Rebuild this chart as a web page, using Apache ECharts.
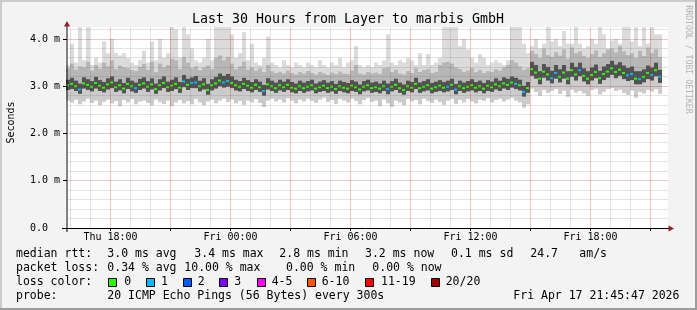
<!DOCTYPE html>
<html><head><meta charset="utf-8">
<script src="https://cdn.jsdelivr.net/npm/echarts@6/dist/echarts.min.js"></script>
<style>html,body{margin:0;padding:0;background:#f3f3f3}#c{width:697px;height:310px}</style>
</head><body><div id="c"></div>
<script>
// time axis in hours since Thu 00:00; one step = 12 minutes
const START_HOUR = 15 + 45/60 + 47/3600;   // Thu 15:45:47
const STEP_HOURS = 0.2;

// median rtt (ms)
const med = [
3.02,3.05,3.00,2.93,3.06,3.03,2.99,3.07,3.01,2.97,
3.04,3.08,2.98,3.02,2.95,3.05,3.00,2.96,3.03,3.06,
2.99,3.04,2.94,3.02,3.07,2.98,3.01,3.05,2.97,3.10,
3.03,3.07,3.08,3.00,3.04,2.92,3.02,3.06,3.12,3.08,
3.11,3.07,3.02,2.99,3.05,3.01,2.97,3.03,2.98,2.90,
3.04,3.00,2.96,3.02,2.98,3.03,2.97,2.95,3.00,2.96,
2.99,3.02,2.95,2.98,3.01,2.96,2.99,2.94,3.00,2.97,
2.95,3.01,2.98,2.93,2.99,3.02,2.96,2.98,2.95,3.00,
2.94,2.99,3.03,2.96,2.92,3.00,2.97,3.05,2.96,2.99,
3.02,2.95,2.98,3.01,2.97,2.99,3.03,2.93,3.00,2.96,
2.99,3.02,2.97,3.00,2.95,3.01,2.98,3.04,3.00,3.06,
3.03,3.08,3.05,3.02,2.88,2.96,3.36,3.29,3.16,3.31,
3.25,3.17,3.28,3.20,3.29,3.16,3.34,3.25,3.34,3.22,
3.16,3.24,3.30,3.17,3.26,3.31,3.38,3.30,3.35,3.28,
3.23,3.26,3.16,3.15,3.20,3.28,3.24,3.34,3.20];
// smoke: lowest ping (ms)
const lo = [
2.70,2.66,2.72,2.62,2.68,2.74,2.65,2.70,2.60,2.67,
2.72,2.64,2.69,2.58,2.71,2.66,2.73,2.62,2.68,2.70,
2.65,2.60,2.72,2.67,2.63,2.70,2.58,2.66,2.71,2.64,
2.69,2.62,2.73,2.66,2.60,2.68,2.72,2.64,2.70,2.74,
2.67,2.72,2.64,2.69,2.61,2.70,2.66,2.73,2.65,2.56,
2.70,2.74,2.68,2.72,2.66,2.75,2.70,2.64,2.72,2.68,
2.74,2.69,2.65,2.72,2.76,2.67,2.71,2.63,2.73,2.70,
2.66,2.74,2.69,2.62,2.71,2.75,2.67,2.70,2.58,2.72,
2.64,2.57,2.70,2.66,2.60,2.73,2.68,2.71,2.62,2.74,
2.69,2.65,2.72,2.67,2.61,2.70,2.74,2.63,2.71,2.66,
2.73,2.68,2.64,2.72,2.69,2.75,2.66,2.71,2.74,2.68,
2.72,2.76,2.70,2.66,2.55,2.62,2.95,2.88,2.80,2.92,
2.86,2.90,2.94,2.84,2.91,2.78,2.93,2.87,2.90,2.85,
2.80,2.92,2.95,2.83,2.89,2.94,2.96,2.90,2.93,2.86,
2.82,2.91,2.76,2.88,2.85,2.92,2.89,2.94,2.84];
// smoke: lower edge of dense core (ms)
const q1 = [
2.92,2.94,2.90,2.84,2.95,2.92,2.89,2.95,2.90,2.87,
2.93,2.96,2.88,2.91,2.85,2.94,2.89,2.86,2.92,2.95,
2.88,2.93,2.84,2.91,2.96,2.88,2.90,2.94,2.86,2.98,
2.92,2.96,2.96,2.89,2.93,2.82,2.91,2.95,3.00,2.97,
2.99,2.96,2.91,2.89,2.94,2.90,2.87,2.92,2.88,2.80,
2.93,2.90,2.86,2.91,2.88,2.92,2.87,2.85,2.90,2.86,
2.89,2.91,2.85,2.88,2.90,2.86,2.89,2.84,2.90,2.87,
2.85,2.90,2.88,2.83,2.89,2.91,2.86,2.88,2.85,2.90,
2.83,2.89,2.92,2.86,2.82,2.90,2.87,2.94,2.86,2.89,
2.91,2.85,2.88,2.90,2.87,2.89,2.92,2.83,2.90,2.86,
2.89,2.91,2.87,2.90,2.85,2.90,2.88,2.93,2.90,2.95,
2.92,2.97,2.94,2.91,2.78,2.86,3.22,3.16,3.04,3.18,
3.12,3.06,3.16,3.08,3.16,3.04,3.20,3.12,3.21,3.10,
3.04,3.12,3.17,3.05,3.13,3.18,3.24,3.17,3.22,3.15,
3.11,3.13,3.04,3.04,3.08,3.15,3.12,3.21,3.07];
// smoke: upper edge of dense core (ms)
const q3 = [
3.14,3.18,3.12,3.06,3.19,3.15,3.11,3.20,3.13,3.09,
3.17,3.21,3.10,3.15,3.07,3.18,3.12,3.08,3.16,3.19,
3.11,3.17,3.06,3.15,3.21,3.10,3.14,3.19,3.09,3.24,
3.16,3.19,3.22,3.12,3.17,3.05,3.15,3.20,3.27,3.22,
3.26,3.21,3.14,3.11,3.18,3.13,3.09,3.15,3.10,3.03,
3.17,3.12,3.08,3.14,3.10,3.15,3.09,3.06,3.12,3.08,
3.11,3.14,3.06,3.10,3.13,3.08,3.11,3.05,3.12,3.09,
3.07,3.13,3.10,3.04,3.11,3.14,3.08,3.10,3.06,3.12,
3.06,3.11,3.16,3.08,3.04,3.12,3.09,3.18,3.08,3.11,
3.15,3.07,3.10,3.13,3.09,3.12,3.16,3.05,3.12,3.08,
3.11,3.15,3.09,3.12,3.07,3.13,3.10,3.17,3.12,3.19,
3.16,3.21,3.18,3.14,3.01,3.09,3.52,3.45,3.32,3.47,
3.41,3.33,3.45,3.36,3.45,3.32,3.50,3.41,3.50,3.38,
3.32,3.40,3.46,3.33,3.42,3.47,3.54,3.46,3.51,3.44,
3.39,3.42,3.32,3.32,3.36,3.44,3.40,3.50,3.35];
// smoke: top of the medium shade (ms)
const hm = [
3.38,3.48,3.35,3.42,3.40,3.52,3.33,3.45,3.37,3.50,
3.42,3.55,3.36,3.44,3.40,3.38,3.34,3.32,3.41,3.47,
3.35,3.52,3.30,3.48,3.40,3.45,3.58,3.55,3.36,3.62,
3.50,3.38,3.42,3.34,3.40,3.44,3.36,3.60,3.65,3.55,
3.62,3.48,3.36,3.42,3.52,3.35,3.40,3.33,3.38,3.30,
3.45,3.32,3.28,3.30,3.27,3.33,3.28,3.25,3.30,3.27,
3.32,3.28,3.25,3.30,3.27,3.24,3.29,3.26,3.31,3.27,
3.26,3.33,3.45,3.27,3.25,3.30,3.27,3.29,3.26,3.38,
3.40,3.30,3.35,3.27,3.25,3.32,3.28,3.38,3.30,3.34,
3.36,3.28,3.30,3.45,3.50,3.52,3.48,3.40,3.36,3.30,
3.33,3.38,3.30,3.34,3.28,3.32,3.30,3.36,3.33,3.40,
3.45,3.55,3.50,3.42,3.35,3.38,3.75,3.68,3.60,3.80,
3.66,3.62,3.72,3.65,3.78,3.58,3.82,3.70,3.74,3.64,
3.60,3.68,3.76,3.62,3.70,3.78,3.80,3.72,3.85,3.74,
3.66,3.70,3.60,3.75,3.64,3.82,3.70,3.78,3.62];
// smoke: highest ping (ms)
const hi = [
3.45,3.90,3.50,4.25,3.55,4.25,3.45,3.60,3.50,3.95,
3.70,4.00,3.70,3.65,3.70,3.60,3.50,3.45,3.55,3.75,
3.50,3.95,3.55,4.00,3.60,3.70,4.25,4.20,3.60,4.25,
4.10,3.80,3.55,3.50,3.60,4.00,3.55,4.25,4.25,4.25,
4.25,4.10,3.60,3.70,4.15,3.55,3.90,3.50,3.45,3.60,
4.05,3.50,3.45,3.40,3.55,3.45,3.40,3.50,3.45,3.40,
3.50,3.45,3.40,3.55,3.45,3.40,3.50,3.45,3.60,3.40,
3.50,3.55,3.85,3.45,3.40,3.45,3.40,3.50,3.45,3.55,
4.10,3.50,3.45,3.55,3.50,3.60,3.55,3.45,3.70,3.45,
3.68,3.45,3.50,3.60,4.25,4.25,4.25,4.25,3.85,4.00,
3.78,3.60,3.50,3.68,3.60,3.45,3.50,3.55,3.50,3.45,
3.55,4.25,4.25,4.25,3.90,3.70,3.85,4.00,3.80,3.90,
4.25,3.95,4.00,3.85,4.17,3.90,3.90,4.25,3.90,3.80,
3.85,4.00,3.90,4.25,4.10,3.80,3.97,4.00,3.90,4.25,
4.25,3.95,4.25,3.85,4.25,3.90,4.25,4.10,4.10];
// lost pings per step (of 20)
const loss = [
0,0,0,1,0,0,0,0,0,0, 0,0,0,0,0,0,0,1,0,0, 0,0,0,0,0,0,0,0,0,1,
0,1,1,0,0,0,0,0,0,1, 1,0,0,0,0,0,0,0,0,1, 0,0,0,0,0,0,0,0,0,0,
0,0,0,0,0,0,0,0,0,0, 0,0,0,0,0,0,0,0,0,0, 1,0,0,0,0,0,0,0,0,0,
0,0,0,0,0,1,0,1,0,0, 0,0,0,0,0,0,0,0,0,0, 0,0,1,0,1,0,0,0,0,0,
0,1,1,0,0,0,0,0,1,0, 0,0,0,0,0,0,0,0,0,0, 1,1,0,1,0,0,1,0,1];

const xTickHours = [18, 24, 30, 36, 42];
const xTickLabels = ['Thu 18:00','Fri 00:00','Fri 06:00','Fri 12:00','Fri 18:00'];
const yTickValues = [0, 1, 2, 3, 4];
const yTickLabels = ['0.0','1.0 m','2.0 m','3.0 m','4.0 m'];
const lossLabels = ['0','1','2','3','4-5','6-10','11-19','20/20'];
const lossColors = ['#26ff00','#00b8ff','#0059ff','#7e00ff','#ff00ff','#ff5500','#ff0000','#a10000'];

(function () {
const X_MIN = 15.75, X_MAX = 45.875, Y_MAX = 4.254;
const FONT = '"DejaVu Sans Mono", monospace';

function lossIndex(n) {
  if (n <= 3) return n;
  if (n <= 5) return 4;
  if (n <= 10) return 5;
  if (n <= 19) return 6;
  return 7;
}

const smokeData = med.map((m, i) => [START_HOUR + i * STEP_HOURS, lo[i], q1[i], q3[i], hm[i], hi[i]]);
const medData = med.map((m, i) => [START_HOUR + i * STEP_HOURS, m, loss[i]]);

// grid positions (axis units)
const hMinor = [], hMajor = [], vMinor = [], vMajor = [];
for (let k = 1; k <= 21; k++) (k % 5 === 0 ? hMajor : hMinor).push(Math.round(k * 2) / 10);
for (let h = 16; h <= 45; h++) (h % 3 === 0 ? vMajor : vMinor).push(h);

function near(a, b) { return Math.abs(a - b) < 1e-6; }

const C_LIGHT = '#dbdbdb', C_LOW = '#cbcbcb', C_MED = '#b6b6b6', C_DARK = '#525252';

function smokeItem(params, api) {
  const t = api.value(0);
  const xa = Math.round(api.coord([t, 0])[0]);
  const xb = Math.round(api.coord([t + STEP_HOURS, 0])[0]);
  const w = xb - xa;
  const Y = v => api.coord([t, v])[1];
  const r = (v0, v1, fill) => ({type: 'rect', shape: {x: xa, y: Y(v1), width: w, height: Y(v0) - Y(v1)}, style: {fill: fill}});
  return {type: 'group', children: [
    r(api.value(1), api.value(5), C_LIGHT),
    r(api.value(1), api.value(2), C_LOW),
    r(api.value(3), api.value(4), C_MED),
    r(api.value(2), api.value(3), C_DARK)
  ]};
}

function medItem(params, api) {
  const t = api.value(0), m = api.value(1), L = api.value(2);
  const a = api.coord([t, m]);
  const xa = Math.round(a[0]);
  const xb = Math.round(api.coord([t + STEP_HOURS, m])[0]);
  return {type: 'rect', shape: {x: xa, y: a[1] - 1, width: xb - xa - 1, height: 2},
          style: {fill: lossColors[lossIndex(L)]}};
}

// ---- legend / text graphics ----
const g = [];
function txt(text, x, y, size) {
  return {type: 'text', x: x, y: y, z: 50, silent: true,
    style: {text: text, fontFamily: FONT, fontSize: size, fill: '#000', align: 'left', verticalAlign: 'middle'}};
}
// frame
g.push({type: 'rect', z: 60, shape: {x: 0, y: 0, width: 697, height: 2}, style: {fill: '#cbcbcb'}});
g.push({type: 'rect', z: 60, shape: {x: 0, y: 0, width: 2, height: 310}, style: {fill: '#cbcbcb'}});
g.push({type: 'rect', z: 60, shape: {x: 0, y: 308, width: 697, height: 2}, style: {fill: '#9c9c9c'}});
g.push({type: 'rect', z: 60, shape: {x: 695, y: 0, width: 2, height: 310}, style: {fill: '#9c9c9c'}});
// axes
g.push({type: 'line', z: 55, shape: {x1: 67, y1: 24, x2: 67, y2: 232}, style: {stroke: '#000', lineWidth: 1}});
g.push({type: 'line', z: 55, shape: {x1: 62, y1: 228.5, x2: 669, y2: 228.5}, style: {stroke: '#000', lineWidth: 1}});
g.push({type: 'polygon', z: 56, shape: {points: [[67, 21], [64, 26.5], [70, 26.5]]}, style: {fill: '#9b1c1c'}});
g.push({type: 'polygon', z: 56, shape: {points: [[674, 228.5], [668.5, 225.5], [668.5, 231.5]]}, style: {fill: '#9b1c1c'}});
// title + side texts
g.push({type: 'text', x: 348, y: 19.5, z: 50, silent: true,
  style: {text: 'Last 30 Hours from Layer to marbis GmbH', fontFamily: FONT, fontSize: 13.3, fill: '#000', align: 'center', verticalAlign: 'middle'}});
g.push({type: 'text', x: 11, y: 122.5, rotation: Math.PI / 2, z: 50, silent: true,
  style: {text: 'Seconds', fontFamily: FONT, fontSize: 10, fill: '#000', align: 'center', verticalAlign: 'middle'}});
g.push({type: 'text', x: 688.5, y: 59.5, rotation: -Math.PI / 2, z: 50, silent: true,
  style: {text: 'RRDTOOL / TOBI OETIKER', fontFamily: FONT, fontSize: 8.2, fill: '#b3b3b3', align: 'center', verticalAlign: 'middle'}});
// legend rows
const LS = 11.5;
[['median rtt:', 16], ['3.0 ms avg', 107.3], ['3.4 ms max', 194.3], ['2.8 ms min', 279.3],
 ['3.2 ms now', 365], ['0.1 ms sd', 451], ['24.7', 530.3], ['am/s', 579.3]].forEach(a => g.push(txt(a[0], a[1], 254.5, LS)));
[['packet loss:', 16], ['0.34 % avg', 107.3], ['10.00 % max', 184.3], ['0.00 % min', 286],
 ['0.00 % now', 372.3]].forEach(a => g.push(txt(a[0], a[1], 268.5, LS)));
g.push(txt('loss color:', 16, 282, LS));
const sqX = [108, 145.5, 182.5, 219, 256.5, 307, 365, 430.5];
const lbX = [124.3, 161, 197.7, 234.3, 271.7, 321.7, 381, 445.7];
lossLabels.forEach((lab, k) => {
  g.push({type: 'rect', z: 50, shape: {x: Math.round(sqX[k]) + 0.5, y: 278.5, width: 8, height: 8},
          style: {fill: lossColors[k], stroke: '#000', lineWidth: 1}});
  g.push(txt(lab, lbX[k], 282, LS));
});
g.push(txt('probe:', 16, 296.5, LS));
g.push(txt('20 ICMP Echo Pings (56 Bytes) every 300s', 107.3, 296.5, LS));
g.push(txt('Fri Apr 17 21:45:47 2026', 513.3, 296.5, LS));

const chart = echarts.init(document.getElementById('c'), null, {renderer: 'canvas'});
chart.setOption({
  animation: false,
  backgroundColor: '#f3f3f3',
  grid: {left: 65.5, top: 27, width: 602.5, height: 201, show: true, backgroundColor: '#ffffff', borderWidth: 0},
  xAxis: {type: 'value', min: X_MIN, max: X_MAX, interval: 0.25,
    axisLine: {show: false}, axisTick: {show: false}, splitLine: {show: false},
    axisLabel: {show: true, margin: 4, fontFamily: FONT, fontSize: 10, color: '#000', hideOverlap: false,
      showMinLabel: true, showMaxLabel: true,
      formatter: v => { for (let k = 0; k < xTickHours.length; k++) if (near(v, xTickHours[k])) return xTickLabels[k]; return ''; }}},
  yAxis: {type: 'value', min: 0, max: Y_MAX, interval: 1,
    axisLine: {show: false}, axisTick: {show: false}, splitLine: {show: false},
    axisLabel: {show: true, align: 'left', margin: 35.5, fontFamily: FONT, fontSize: 10, color: '#000',
      showMinLabel: true, showMaxLabel: true,
      formatter: v => { for (let k = 0; k < yTickValues.length; k++) if (near(v, yTickValues[k])) return yTickLabels[k]; return ''; }}},
  graphic: {elements: g},
  series: [
    {type: 'custom', name: 'smoke', z: 2, silent: true, clip: true, data: smokeData, encode: {x: 0, y: [1, 2, 3, 4, 5]}, renderItem: smokeItem},
    {type: 'custom', name: 'median', z: 3, silent: true, clip: true, data: medData, encode: {x: 0, y: 1}, renderItem: medItem}
  ]
});

// grid lines + axis ticks, positioned through the chart's own scales; drawn over the data like rrdtool
// (fine dotted grid rendered as its average tone so it survives any resampling)
const toPx = (x, y) => chart.convertToPixel({gridIndex: 0}, [x, y]);
const pTop = toPx(X_MIN, Y_MAX)[1], pBottom = toPx(X_MIN, 0)[1];
const pRight = toPx(X_MAX, 0)[0];
const yT = Math.round(pTop), yB = Math.round(pBottom), xR = Math.round(pRight);
const gl = [];
function vline(h, color) {
  const x = Math.floor(toPx(h, 0)[0]) + 0.5;
  gl.push({type: 'line', z: 20, silent: true, shape: {x1: x, y1: yB, x2: x, y2: yT},
           style: {stroke: color, lineWidth: 1}});
  return x;
}
function hline(v, color) {
  const y = Math.floor(toPx(X_MIN, v)[1]) + 0.5;
  gl.push({type: 'line', z: 20, silent: true, shape: {x1: 68, y1: y, x2: xR, y2: y},
           style: {stroke: color, lineWidth: 1}});
  return y;
}
hMinor.forEach(v => hline(v, 'rgba(95,95,95,0.17)'));
vMinor.forEach(h => vline(h, 'rgba(95,95,95,0.17)'));
hMajor.forEach(v => {
  const y = hline(v, 'rgba(150,30,30,0.24)');
  gl.push({type: 'line', z: 55, silent: true, shape: {x1: 63, y1: y, x2: 67, y2: y}, style: {stroke: '#000', lineWidth: 1}});
});
vMajor.forEach(h => {
  const x = vline(h, 'rgba(235,0,0,0.24)');
  gl.push({type: 'line', z: 55, silent: true, shape: {x1: x, y1: yB, x2: x, y2: yB + 3}, style: {stroke: '#000', lineWidth: 1}});
});
chart.setOption({graphic: {elements: g.concat(gl)}});
})();
</script></body></html>
